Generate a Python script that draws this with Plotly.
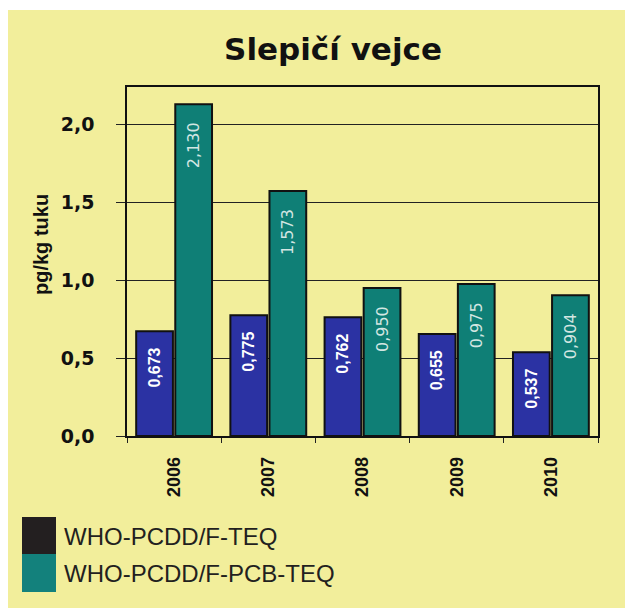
import plotly.graph_objects as go

years = ["2006", "2007", "2008", "2009", "2010"]
pcdd_teq = [0.673, 0.775, 0.762, 0.655, 0.537]
pcdd_pcb_teq = [2.130, 1.573, 0.950, 0.975, 0.904]
series_names = ["WHO-PCDD/F-TEQ", "WHO-PCDD/F-PCB-TEQ"]
y_ticks = [0.0, 0.5, 1.0, 1.5, 2.0]
y_tick_labels = ["0,0", "0,5", "1,0", "1,5", "2,0"]

# the page body adds an 8px margin, so the figure is drawn 8px smaller
OFF = 8
W, H = 633 - OFF, 608 - OFF
ML, MR, MT, MB = 127 - OFF, 35, 87 - OFF, 172
pw, ph = W - ML - MR, H - MT - MB

def px(x):  # page x -> paper
    return (x - OFF - ML) / pw

def py(y):  # page y -> paper
    return 1 - (y - OFF - MT) / ph

fmt = lambda v: f"{v:.3f}".replace(".", ",")
PAD = "\u00a0\u00a0\u00a0"

fig = go.Figure()
fig.add_trace(go.Bar(
    x=years, y=pcdd_teq, name=series_names[0],
    marker=dict(color="#2b32a3", line=dict(color="#111111", width=2)),
    text=[fmt(v) + PAD for v in pcdd_teq], textposition="inside", textangle=-90,
    insidetextanchor="end",
    textfont=dict(family="Liberation Sans, Arial", size=17, color="white", weight="bold"),
    showlegend=False,
))
fig.add_trace(go.Bar(
    x=years, y=pcdd_pcb_teq, name=series_names[1],
    marker=dict(color="#0f7f76", line=dict(color="#111111", width=2)),
    text=[fmt(v) + PAD for v in pcdd_pcb_teq], textposition="inside", textangle=-90,
    insidetextanchor="end",
    textfont=dict(family="Liberation Sans Narrow, DejaVu Sans, Liberation Sans", size=16,
                  color="#d3e6e2"),
    showlegend=False,
))

fig.update_layout(
    width=W, height=H,
    margin=dict(l=ML, r=MR, t=MT, b=MB),
    paper_bgcolor="white",
    plot_bgcolor="white",
    barmode="group", bargap=0.17, bargroupgap=0.06,
    uniformtext=dict(minsize=8, mode="show"),
    title=dict(text="<b>Slepičí vejce</b>", x=px(333), xref="paper", xanchor="center",
               y=1 - (49 - OFF) / H, yanchor="middle",
               font=dict(family="DejaVu Sans, Verdana", size=31, color="#111111")),
    xaxis=dict(
        type="category", tickson="boundaries", ticks="outside", ticklen=5,
        tickcolor="#222", tickangle=-90, showline=True, linecolor="#111", linewidth=1.5,
        mirror=True, showgrid=False, ticklabelstandoff=12,
        tickfont=dict(family="Liberation Sans, Arial", size=18, color="#111", weight="bold"),
    ),
    yaxis=dict(
        range=[0, 2.24], tickvals=y_ticks, ticktext=y_tick_labels,
        ticks="outside", ticklen=9, tickcolor="#222",
        showline=True, linecolor="#111", linewidth=1.5, mirror=True,
        showgrid=True, gridcolor="#222222", gridwidth=1, zeroline=False,
        ticklabelstandoff=18,
        tickfont=dict(family="DejaVu Sans, Verdana", size=19, color="#111", weight="bold"),
    ),
    shapes=[
        dict(type="rect", xref="paper", yref="paper", layer="below",
             x0=px(7), x1=px(640), y0=py(10), y1=py(620),
             fillcolor="#f2ee9b", line=dict(width=0)),
        dict(type="rect", xref="paper", yref="paper",
             x0=px(22), x1=px(56), y0=py(517), y1=py(554),
             fillcolor="#231f20", line=dict(width=0)),
        dict(type="rect", xref="paper", yref="paper",
             x0=px(22), x1=px(56), y0=py(554), y1=py(592),
             fillcolor="#13817c", line=dict(width=0)),
    ],
    annotations=[
        dict(text="<b>pg/kg tuku</b>", xref="paper", yref="paper", x=px(41), y=py(245),
             xanchor="center", yanchor="middle", textangle=-90, showarrow=False,
             font=dict(family="Liberation Sans, Arial", size=20, color="#111")),
        dict(text=series_names[0], xref="paper", yref="paper", x=px(62), y=py(536),
             xanchor="left", yanchor="middle", showarrow=False,
             font=dict(family="Liberation Sans, Arial", size=24, color="#231f20")),
        dict(text=series_names[1], xref="paper", yref="paper", x=px(62), y=py(573),
             xanchor="left", yanchor="middle", showarrow=False,
             font=dict(family="Liberation Sans, Arial", size=24, color="#231f20")),
    ],
)

fig.write_html("out.html")
